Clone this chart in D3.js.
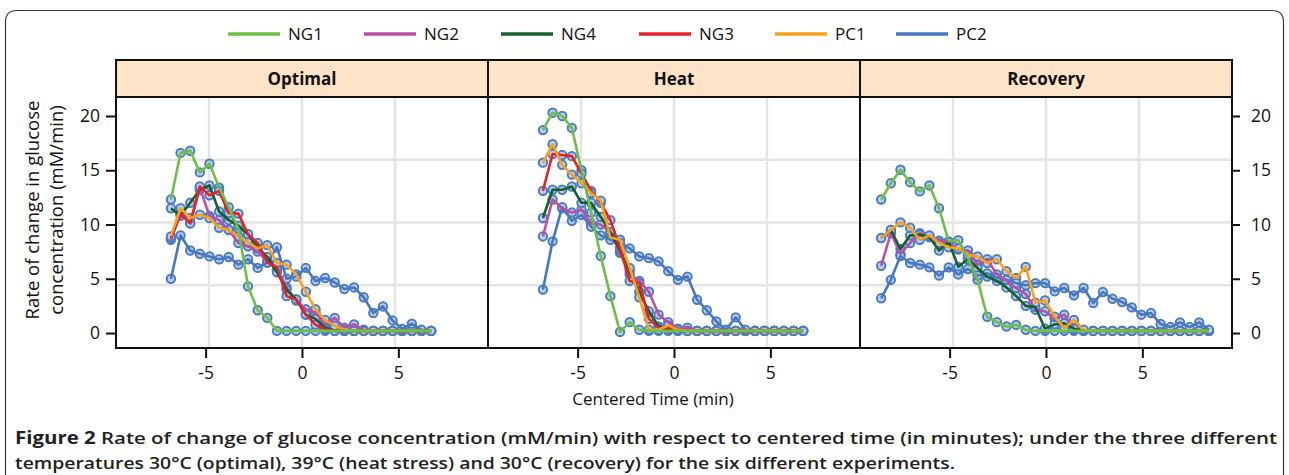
<!DOCTYPE html>
<html><head><meta charset="utf-8">
<script src="https://cdn.jsdelivr.net/npm/d3@7"></script>
<style>body{margin:0;background:#fff}svg{display:block}</style>
</head><body><svg id="c" width="1289" height="475"></svg>
<script>
// ---------- data ----------
const seriesNames  = ["NG1","NG2","NG4","NG3","PC1","PC2"];
const seriesColors = ["#6cbf47","#b94fa6","#15602c","#e8202a","#f9a11b","#4677bf"];
const panelTitles  = ["Optimal","Heat","Recovery"];
const yTicks = [0,5,10,15,20];
const xTicks = [-5,0,5];

const timesShort = [-6.8,-6.3,-5.8,-5.3,-4.8,-4.3,-3.8,-3.3,-2.8,-2.3,-1.8,-1.3,-0.8,-0.3,0.2,0.7,1.2,1.7,2.2,2.7,3.2,3.7,4.2,4.7,5.2,5.7,6.2,6.7];
const timesRecovery = [-8.55,-8.05,-7.55,-7.05,-6.55,-6.05,-5.55,-5.05,-4.55,-4.05,-3.55,-3.05,-2.55,-2.05,-1.55,-1.05,-0.55,-0.05,0.45,0.95,1.45,1.95,2.45,2.95,3.45,3.95,4.45,4.95,5.45,5.95,6.45,6.95,7.45,7.95,8.45];

// Optimal
const optNG1 = [12.3,16.6,16.8,14.8,15.6,13.4,11.6,9.6,4.3,2.1,1.4,0.2,0.2,0.2,0.2,0.2,0.2,0.2,0.2,0.2,0.2,0.2,0.2,0.2,0.2,0.2,0.2,0.2];
const optNG2 = [8.6,11.0,10.1,13.4,10.8,10.4,9.5,8.3,8.0,7.5,6.6,5.8,4.2,3.0,2.2,1.9,0.8,1.4,0.5,0.8,0.3,0.2,0.2,0.2,0.2,0.2,0.2,0.2];
const optNG4 = [11.5,10.8,12.0,13.2,13.6,11.2,10.4,9.9,9.1,7.9,7.0,5.6,4.0,3.1,1.7,1.3,0.5,0.2,0.2,0.2,0.2,0.2,0.2,0.2,0.2,0.2,0.2,0.2];
const optNG3 = [8.75,11.0,10.1,13.5,12.7,13.1,11.05,11.0,9.1,8.3,6.5,6.1,3.4,3.1,1.7,0.77,0.35,0.2,0.2,0.2,0.2,0.2,0.2,0.2,0.2,0.2,0.2,0.2];
const optPC1 = [8.9,11.5,10.6,10.9,10.6,9.7,9.5,8.9,8.35,7.8,8.1,6.45,6.3,5.4,3.8,2.2,1.2,0.67,0.3,0.2,0.2,0.2,0.2,0.2,0.2,0.2,0.2,0.2];
const optPC2 = [5.0,9.0,7.6,7.3,7.06,6.8,7.0,6.3,6.8,6.0,6.5,7.9,5.0,5.2,6.0,4.8,5.07,4.66,4.06,4.2,3.3,1.85,2.45,1.16,0.37,0.86,0.3,0.2];

// Heat
const heatNG1 = [18.7,20.3,20.0,18.9,15.0,11.1,7.1,3.4,0.1,1.0,0.3,0.2,0.2,0.2,0.2,0.2,0.2,0.2,0.2,0.2,0.2,0.2,0.2,0.2,0.2,0.2,0.2,0.2];
const heatNG2 = [8.9,12.3,11.5,11.1,11.4,10.1,10.0,9.3,7.4,5.4,4.8,3.8,1.7,1.0,0.4,0.5,0.2,0.2,0.2,0.2,0.2,0.2,0.2,0.2,0.2,0.2,0.2,0.2];
const heatNG4 = [10.6,13.2,13.2,13.5,12.0,12.0,10.7,9.3,7.6,5.7,3.8,2.0,0.6,0.3,0.2,0.2,0.2,0.2,0.2,0.2,0.2,0.2,0.2,0.2,0.2,0.2,0.2,0.2];
const heatNG3 = [13.1,16.5,16.4,16.3,14.7,13.1,12.0,10.4,7.8,4.8,4.6,1.3,0.45,0.5,0.3,0.2,0.2,0.2,0.2,0.2,0.2,0.2,0.2,0.2,0.2,0.2,0.2,0.2];
const heatPC1 = [15.7,17.4,15.5,14.6,13.8,12.9,12.2,8.8,8.6,6.0,3.3,0.3,0.3,0.7,0.3,0.2,0.2,0.2,0.2,0.2,0.2,0.2,0.2,0.2,0.2,0.2,0.2,0.2];
const heatPC2 = [4.0,8.45,11.6,10.35,10.9,9.8,9.0,8.6,8.3,7.8,7.06,6.9,6.6,5.7,4.9,5.2,3.07,2.1,1.07,0.3,1.44,0.3,0.2,0.2,0.2,0.2,0.2,0.2];

// Recovery (no NG3 run)
const recNG1 = [12.3,13.8,15.05,13.9,13.05,13.6,11.5,8.45,8.55,6.9,4.9,1.5,1.0,0.6,0.75,0.3,0.2,0.2,0.2,0.2,0.2,0.2,0.2,0.2,0.2,0.2,0.2,0.2,0.2,0.2,0.2,0.2,0.2,0.2,0.2];
const recNG2 = [6.2,9.2,7.3,8.3,9.2,8.85,8.5,8.4,7.7,7.6,6.3,6.8,5.4,4.8,4.15,3.6,2.15,2.0,1.3,1.7,0.35,0.2,0.2,0.2,0.2,0.2,0.2,0.2,0.2,0.2,0.2,0.2,0.2,0.2,0.2];
const recNG4 = [8.75,9.5,7.74,9.0,9.06,8.85,7.6,8.4,6.1,6.8,6.0,5.2,4.8,4.2,3.4,2.5,2.4,0.4,0.8,0.9,0.4,0.2,0.2,0.2,0.2,0.2,0.2,0.2,0.2,0.2,0.2,0.2,0.2,0.2,0.2];
const recNG3 = [];
const recPC1 = [8.75,9.5,10.2,9.7,8.6,9.0,8.3,7.9,7.8,7.2,7.06,6.45,6.8,5.7,5.07,6.1,2.8,3.0,1.5,0.46,1.2,0.3,0.2,0.2,0.2,0.2,0.2,0.2,0.2,0.2,0.2,0.2,0.2,0.2,0.2];
const recPC2 = [3.2,4.9,7.1,6.45,6.3,6.05,5.3,6.05,5.4,5.9,5.3,5.5,5.1,4.9,4.6,4.4,4.6,4.6,3.84,4.15,3.47,4.15,2.76,3.78,3.16,2.85,2.36,1.69,1.84,0.83,0.55,0.98,0.55,0.98,0.3];

const panels = [
  {title: panelTitles[0], times: timesShort,    series: [optNG1, optNG2, optNG4, optNG3, optPC1, optPC2]},
  {title: panelTitles[1], times: timesShort,    series: [heatNG1, heatNG2, heatNG4, heatNG3, heatPC1, heatPC2]},
  {title: panelTitles[2], times: timesRecovery, series: [recNG1, recNG2, recNG4, recNG3, recPC1, recPC2]}
];

// ---------- layout ----------
const FONT = "'Open Sans', 'DejaVu Sans', sans-serif";
const svg = d3.select("#c");
const panelX0 = [116, 488, 860], panelW = 372;
const pTop = 97, pBottom = 348, stripTop = 60;

const y = d3.scaleLinear().domain([-1.38, 21.75]).range([pBottom, pTop]);

// outer frame
svg.append("path")
  .attr("d", "M5.5,480 V22 Q5.5,10.5 17,10.5 H1272 Q1283.5,10.5 1283.5,22 V480")
  .attr("fill","none").attr("stroke","#3a3a3a").attr("stroke-width",1.2);

// legend
const legendX = [228, 364, 501, 639, 775, 896];
const lg = svg.append("g");
seriesNames.forEach((n,i)=>{
  lg.append("line").attr("x1",legendX[i]).attr("x2",legendX[i]+52).attr("y1",34).attr("y2",34)
    .attr("stroke",seriesColors[i]).attr("stroke-width",3.5);
  lg.append("text").attr("x",legendX[i]+60).attr("y",40).text(n)
    .attr("font-family",FONT).attr("font-size",17).attr("fill","#111");
});

const drawOrder = [5,1,2,3,4,0];

panels.forEach((p, pi) => {
  const x0 = panelX0[pi];
  const x = d3.scaleLinear().domain([-9.65, 9.65]).range([x0, x0 + panelW]);
  const g = svg.append("g");
  g.append("rect").attr("x",x0).attr("y",pTop).attr("width",panelW).attr("height",pBottom-pTop).attr("fill","#fff");
  for (let q=1;q<4;q++){
    g.append("line").attr("x1",x0+panelW*q/4).attr("x2",x0+panelW*q/4).attr("y1",pTop).attr("y2",pBottom)
      .attr("stroke","#e4e4e4").attr("stroke-width",2.5);
    g.append("line").attr("x1",x0).attr("x2",x0+panelW).attr("y1",pTop+(pBottom-pTop)*q/4).attr("y2",pTop+(pBottom-pTop)*q/4)
      .attr("stroke","#e4e4e4").attr("stroke-width",2.5);
  }
  const clipId = "clip"+pi;
  svg.append("clipPath").attr("id",clipId).append("rect").attr("x",x0).attr("y",pTop).attr("width",panelW).attr("height",pBottom-pTop);
  const dg = g.append("g").attr("clip-path",`url(#${clipId})`);
  p.series.forEach((vals)=>{
    dg.selectAll(null).data(vals.map((v,i)=>[p.times[i],v])).enter().append("circle")
      .attr("cx",d=>x(d[0])).attr("cy",d=>y(d[1])).attr("r",4.2)
      .attr("fill","#bccfea").attr("stroke","#4a7cc2").attr("stroke-width",2);
  });
  const line = d3.line().x(d=>x(d[0])).y(d=>y(d[1]));
  drawOrder.forEach(si=>{
    const vals = p.series[si];
    if (!vals.length) return;
    dg.append("path").datum(vals.map((v,i)=>[p.times[i],v])).attr("d",line)
      .attr("fill","none").attr("stroke",seriesColors[si]).attr("stroke-width",2.6).attr("stroke-linejoin","round");
  });
  g.append("rect").attr("x",x0).attr("y",stripTop).attr("width",panelW).attr("height",pTop-stripTop)
    .attr("fill","#fde4c9").attr("stroke","#111").attr("stroke-width",2);
  g.append("text").attr("x",x0+panelW/2).attr("y",(stripTop+pTop)/2+6).attr("text-anchor","middle")
    .attr("font-family",FONT).attr("font-weight","bold").attr("font-size",17).attr("fill","#111").text(p.title);
  g.append("rect").attr("x",x0).attr("y",pTop).attr("width",panelW).attr("height",pBottom-pTop)
    .attr("fill","none").attr("stroke","#111").attr("stroke-width",2);
  const xa = svg.append("g").attr("transform",`translate(0,${pBottom})`)
    .call(d3.axisBottom(x).tickValues(xTicks).tickSize(10).tickPadding(9).tickFormat(d=>String(d)));
  xa.select(".domain").remove();
  xa.selectAll("line").attr("stroke","#111").attr("stroke-width",2);
  xa.selectAll("text").attr("font-family",FONT).attr("font-size",17.5).attr("fill","#111");
});

const yl = svg.append("g").attr("transform",`translate(${panelX0[0]},0)`)
  .call(d3.axisLeft(y).tickValues(yTicks).tickSize(10).tickPadding(6).tickFormat(d=>String(d)));
yl.select(".domain").remove();
yl.selectAll("line").attr("stroke","#111").attr("stroke-width",2);
yl.selectAll("text").attr("font-family",FONT).attr("font-size",17.5).attr("fill","#111");
const yr = svg.append("g").attr("transform",`translate(${panelX0[2]+panelW},0)`)
  .call(d3.axisRight(y).tickValues(yTicks).tickSize(8).tickPadding(11).tickFormat(d=>String(d)));
yr.select(".domain").remove();
yr.selectAll("line").attr("stroke","#111").attr("stroke-width",2);
yr.selectAll("text").attr("font-family",FONT).attr("font-size",17.5).attr("fill","#111");

svg.append("text").attr("transform","translate(39,210) rotate(-90)").attr("text-anchor","middle")
  .attr("font-family",FONT).attr("font-size",18.5).attr("fill","#111").text("Rate of change in glucose");
svg.append("text").attr("transform","translate(63,210) rotate(-90)").attr("text-anchor","middle")
  .attr("font-family",FONT).attr("font-size",18.5).attr("fill","#111").text("concentration (mM/min)");
svg.append("text").attr("x",653).attr("y",405).attr("text-anchor","middle")
  .attr("font-family",FONT).attr("font-size",17).attr("fill","#111").text("Centered Time (min)");

const cap1 = svg.append("text").attr("x",15).attr("y",444).attr("font-family",FONT).attr("font-size",17).attr("fill","#222")
  .attr("textLength",1262).attr("lengthAdjust","spacingAndGlyphs");
cap1.append("tspan").attr("font-weight","bold").text("Figure 2");
cap1.append("tspan").attr("font-weight","600").text(" Rate of change of glucose concentration (mM/min) with respect to centered time (in minutes); under the three different");
const cap2 = svg.append("text").attr("x",15).attr("y",469).attr("font-family",FONT).attr("font-size",17).attr("fill","#222")
  .attr("textLength",940).attr("lengthAdjust","spacingAndGlyphs");
cap2.append("tspan").attr("font-weight","600").text("temperatures 30°C (optimal), 39°C (heat stress) and 30°C (recovery) for the six different experiments.");
</script></body></html>
